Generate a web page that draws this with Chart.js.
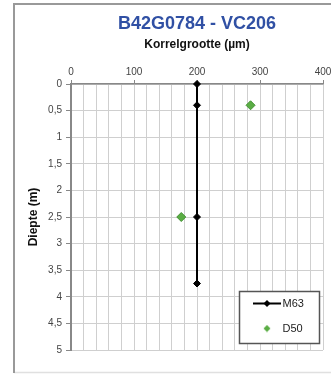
<!DOCTYPE html>
<html><head><meta charset="utf-8">
<script src="https://cdn.jsdelivr.net/npm/chart.js@4"></script>
<style>html,body{margin:0;padding:0;background:#fff;overflow:hidden}
#wrap{position:absolute;left:0;top:0;width:331px;height:374px}</style>
</head><body>
<div id="wrap"><canvas id="c" width="331" height="374"></canvas></div>
<script>
// ---- data ----
const chartTitle = 'B42G0784 - VC206';
const xAxisTitle = 'Korrelgrootte (µm)';
const yAxisTitle = 'Diepte (m)';
const seriesNames = ['M63', 'D50'];
const m63Size = [200, 200, 200, 200];
const m63Depth = [0, 0.4, 2.5, 3.75];
const d50Size = [285, 175];
const d50Depth = [0.4, 2.5];
const xTickLabels = [0, 100, 200, 300, 400];
const yTickLabels = ['0', '0,5', '1', '1,5', '2', '2,5', '3', '3,5', '4', '4,5', '5'];

const GREEN = '#5aad44';
const GREEN_EDGE = '#449234';

function makeLineIcon() {
  const c = document.createElement('canvas');
  c.width = 28; c.height = 9;
  const g = c.getContext('2d');
  g.strokeStyle = '#000'; g.lineWidth = 2;
  g.beginPath(); g.moveTo(0, 4.5); g.lineTo(28, 4.5); g.stroke();
  g.fillStyle = '#000';
  g.beginPath(); g.moveTo(14, 1); g.lineTo(17.5, 4.5); g.lineTo(14, 8); g.lineTo(10.5, 4.5); g.closePath(); g.fill();
  return c;
}
function makeDiamondIcon() {
  const c = document.createElement('canvas');
  c.width = 8; c.height = 8;
  const g = c.getContext('2d');
  g.fillStyle = GREEN;
  g.beginPath(); g.moveTo(4, 0.5); g.lineTo(7.5, 4); g.lineTo(4, 7.5); g.lineTo(0.5, 4); g.closePath(); g.fill();
  return c;
}
const legendIcons = [makeLineIcon(), makeDiamondIcon()];

const frameAndLegendPlugin = {
  id: 'frameAndLegend',
  beforeDraw(chart) {
    const ctx = chart.ctx;
    ctx.save();
    ctx.fillStyle = '#fff';
    ctx.fillRect(0, 0, chart.width, chart.height);
    ctx.strokeStyle = '#e0e0e0';
    ctx.lineWidth = 1.5;
    ctx.beginPath(); ctx.moveTo(14, 372.5); ctx.lineTo(331, 372.5); ctx.stroke();
    ctx.strokeStyle = '#999';
    ctx.lineWidth = 2;
    ctx.beginPath(); ctx.moveTo(14, 373); ctx.lineTo(14, 4); ctx.lineTo(331, 4); ctx.stroke();
    ctx.restore();
  },
  afterLayout(chart) {
    const lg = chart.legend;
    if (!lg) return;
    lg.left = 243; lg.right = 323; lg.top = 284; lg.bottom = 360;
    lg.width = 80; lg.height = 76;
    if (!lg._wrapped) {
      const orig = lg.draw.bind(lg);
      lg.draw = function () {
        const ctx = chart.ctx;
        ctx.save();
        ctx.fillStyle = '#fff';
        ctx.fillRect(239, 291, 80, 52);
        ctx.strokeStyle = '#555';
        ctx.lineWidth = 1.5;
        ctx.strokeRect(239.5, 291.5, 80, 52);
        ctx.restore();
        orig();
      };
      lg._wrapped = true;
    }
  }
};

new Chart(document.getElementById('c'), {
  type: 'scatter',
  data: {
    datasets: [
      {
        label: seriesNames[0],
        data: m63Size.map((x, i) => ({ x: x, y: m63Depth[i] })),
        showLine: true,
        borderColor: '#000',
        borderWidth: 2,
        pointStyle: 'rectRot',
        pointRadius: 3.5,
        pointBackgroundColor: '#000',
        pointBorderColor: '#000',
        pointBorderWidth: 1,
        clip: false
      },
      {
        label: seriesNames[1],
        data: d50Size.map((x, i) => ({ x: x, y: d50Depth[i] })),
        showLine: false,
        pointStyle: 'rectRot',
        pointRadius: 4.5,
        pointBackgroundColor: GREEN,
        pointBorderColor: GREEN_EDGE,
        pointBorderWidth: 1,
        clip: false
      }
    ]
  },
  options: {
    responsive: false,
    animation: false,
    events: [],
    layout: { padding: { left: 14, right: 8, top: 0, bottom: 24 } },
    plugins: {
      title: {
        display: true,
        text: chartTitle,
        fullSize: false,
        color: '#3050a4',
        font: { family: 'Liberation Sans', size: 18, weight: 'bold' },
        padding: { top: 13, bottom: 0 }
      },
      legend: {
        display: true,
        position: 'chartArea',
        fullSize: false,
        align: 'start',
        labels: {
          usePointStyle: true,
          pointStyleWidth: 20,
          padding: 14,
          color: '#222',
          font: { family: 'Liberation Sans', size: 11 },
          generateLabels: (chart) => chart.data.datasets.map((ds, i) => ({
            text: ds.label,
            pointStyle: legendIcons[i],
            fillStyle: '#000',
            strokeStyle: '#000',
            lineWidth: 0,
            hidden: false,
            datasetIndex: i,
            fontColor: '#222'
          }))
        }
      },
      tooltip: { enabled: false }
    },
    scales: {
      x: {
        type: 'linear',
        position: 'top',
        min: xTickLabels[0],
        max: xTickLabels[xTickLabels.length - 1],
        afterFit(scale) { scale.height = 49.4; scale.paddingLeft = 0; scale.paddingRight = 0; },
        ticks: {
          stepSize: 20,
          autoSkip: false,
          minRotation: 0,
          maxRotation: 0,
          padding: 1.5,
          color: '#444',
          font: { family: 'Liberation Sans', size: 10 },
          callback: (v) => xTickLabels.includes(v) ? String(v) : ''
        },
        grid: {
          color: '#cfcfcf',
          lineWidth: 1,
          tickLength: 4,
          tickColor: (c) => (c.tick && xTickLabels.includes(c.tick.value)) ? '#888' : 'rgba(0,0,0,0)'
        },
        border: { color: '#888', width: 1.5 },
        title: {
          display: true,
          text: xAxisTitle,
          color: '#111',
          font: { family: 'Liberation Sans', size: 12, weight: 'bold' },
          padding: { top: 3, bottom: 0 }
        }
      },
      y: {
        type: 'linear',
        reverse: true,
        min: 0,
        max: 5,
        afterFit(scale) { scale.width = 57; },
        ticks: {
          stepSize: 0.5,
          autoSkip: false,
          padding: 4,
          color: '#444',
          font: { family: 'Liberation Sans', size: 10 },
          callback: (v) => yTickLabels[Math.round(v * 2)]
        },
        grid: { color: '#cfcfcf', lineWidth: 1, tickLength: 5, tickColor: '#888' },
        border: { color: '#888', width: 2 },
        title: {
          display: true,
          text: yAxisTitle,
          color: '#111',
          font: { family: 'Liberation Sans', size: 12, weight: 'bold' },
          padding: { top: 12, bottom: 0 }
        }
      }
    }
  },
  plugins: [frameAndLegendPlugin]
});
</script>
</body></html>
